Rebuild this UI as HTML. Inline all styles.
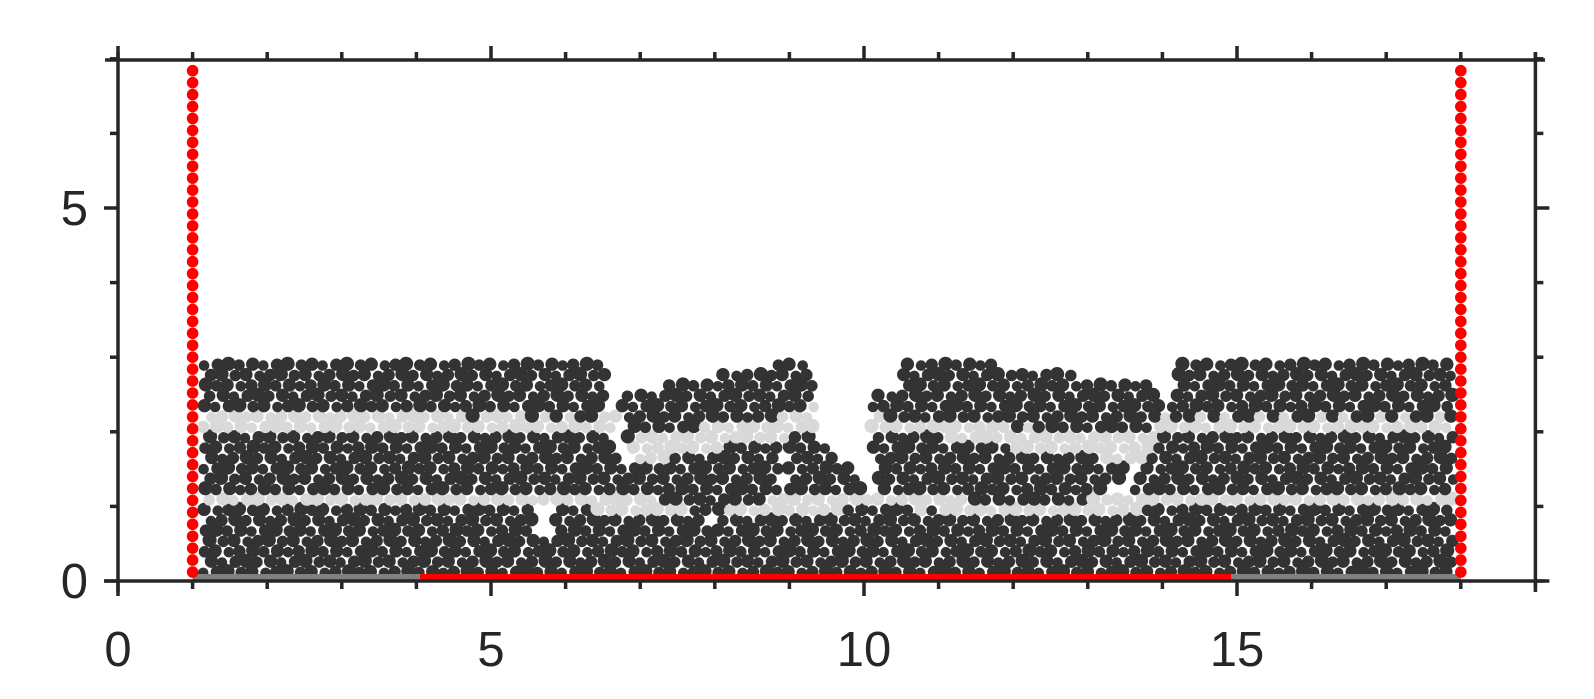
<!DOCTYPE html>
<html><head><meta charset="utf-8"><style>
html,body{margin:0;padding:0;background:#fff;}
svg{display:block;font-family:"Liberation Sans",sans-serif;}
</style></head><body>
<svg id="chart" width="1594" height="699" viewBox="0 0 1594 699" xmlns="http://www.w3.org/2000/svg">
<g id="particles"></g>
<g id="walls"></g>
<g id="axes"></g>
</svg>
<script>
// ---- data ----
const xTickMajor = [0, 5, 10, 15];
const xTickLabels = ["0", "5", "10", "15"];
const xTickMinor = [1,2,3,4,6,7,8,9,11,12,13,14,16,17,18,19];
const yTickMajor = [0, 5];
const yTickLabels = ["0", "5"];
const yTickMinor = [1,2,3,4,6,7];
const wallXs = [1, 18];
const wallTop = 7;
const floorRed = [4.05, 14.92];
const floorGray = [[1, 4.05], [14.92, 18]];
// regions of material (data units): white holes, dark layers, light layers
const holeRegions = [
  [[5.58,0.6],[5.85,0.6],[5.85,1.05],[5.58,1.05]]
];
const darkRegions = [
  [[1.1,0.05],[17.9,0.05],[17.9,0.98],[14,0.98],[13.3,0.9],[12.5,0.82],[11,0.95],[10.1,0.98],[9.3,0.9],[8,0.82],[7.2,0.9],[6.5,0.95],[5.5,1.02],[1.1,1.0]],
  [[1.1,2.25],[1.1,3.0],[6.55,2.97],[6.55,2.2]],
  [[1.1,1.97],[6.6,1.97],[6.8,1.6],[7.1,1.4],[7.1,1.2],[1.1,1.18]],
  [[6.76,2.49],[9.18,3.0],[9.32,2.95],[9.32,2.29],[6.76,1.89]],
  [[7.0,1.58],[8.83,1.93],[8.92,1.13],[7.8,0.86],[7.0,1.22]],
  [[8.95,1.9],[9.3,2.0],[9.6,1.7],[9.95,1.4],[9.95,1.15],[8.95,1.1]],
  [[10.08,2.22],[10.08,2.5],[10.45,2.5],[10.48,3.05],[14.0,2.62],[13.93,1.93]],
  [[10.1,2.06],[13.52,1.58],[13.6,1.4],[12.67,0.95],[10.17,1.22]],
  [[14.24,3.0],[17.9,3.0],[17.9,2.2],[14.1,2.2],[14.1,2.4]],
  [[14.0,2.0],[17.9,2.0],[17.9,1.18],[13.5,1.18],[13.6,1.35]]
];
const lightRegions = [
  [[1.1,2.28],[6.7,2.28],[6.7,1.93],[1.1,1.93]],
  [[1.1,1.22],[17.9,1.22],[17.9,0.85],[1.1,0.85]],
  [[6.8,1.95],[9.35,2.35],[9.35,1.95],[7.0,1.5]],
  [[10.1,2.3],[13.95,1.95],[13.95,1.5],[10.1,2.0]],
  [[14.0,2.28],[17.9,2.28],[17.9,1.93],[13.9,1.93]]
];

// ---- scales ----
const X = v => 118 + v * 74.6;
const Y = v => 581 - v * 74.6;
const NS = "http://www.w3.org/2000/svg";
function mk(tag, attrs, parent){ const e=document.createElementNS(NS,tag); for(const k in attrs) e.setAttribute(k,attrs[k]); parent.appendChild(e); return e; }
function inPoly(x,y,p){ let c=false; for(let i=0,j=p.length-1;i<p.length;j=i++){ const xi=p[i][0],yi=p[i][1],xj=p[j][0],yj=p[j][1]; if(((yi>y)!==(yj>y)) && (x < (xj-xi)*(y-yi)/(yj-yi)+xi)) c=!c; } return c; }

// particles
const pg = document.getElementById('particles');
const d = 0.16, dy = 0.139;
for(let j=0; 0.12 + j*dy <= 3.1; j++){
  for(let i=0; 1.16 + i*d + (j%2)*0.08 <= 17.9; i++){
    const h = (i*7 + j*13) % 5, h2 = (i*11 + j*5) % 7;
    const x = 1.16 + i*d + (j%2)*0.08 + (h2-3)*0.006;
    const y = 0.12 + j*dy + (h-2)*0.006;
    if(holeRegions.some(p=>inPoly(x,y,p))) continue;
    let col = null;
    if(darkRegions.some(p=>inPoly(x,y,p))) col = '#333333';
    else if(lightRegions.some(p=>inPoly(x,y,p))) col = '#d9d9d9';
    if(!col) continue;
    const c = mk('circle',{cx:X(x).toFixed(1),cy:Y(y).toFixed(1),r:(5.3+h*0.45).toFixed(2),fill:col},pg);
    
    
  }
}

// walls and floor
const wg = document.getElementById('walls');
floorGray.forEach(s=>{
  const l = mk('line',{x1:X(s[0]),x2:X(s[1]),y1:577,y2:577,stroke:'#808080','stroke-width':6},wg);
  
  
});
{
  const l = mk('line',{x1:X(floorRed[0]),x2:X(floorRed[1]),y1:577,y2:577,stroke:'#ff0000','stroke-width':6},wg);
  
  
}
wallXs.forEach(wx=>{
  for(let v=0.12; v<=wallTop-0.05; v+=0.16){
    const c = mk('circle',{cx:X(wx),cy:Y(v),r:5.8,fill:'#ff0000'},wg);
    
    
  }
});

// axes
const ag = document.getElementById('axes');
const ax = '#262626';
function ln(x1,y1,x2,y2,name){ const l=mk('line',{x1,y1,x2,y2,stroke:ax,'stroke-width':3.5},ag);   }
ln(105,581,1545,581,'x-axis-bottom');
ln(105,60,1545,60,'x-axis-top');
ln(X(0),52,X(0),592,'y-axis-left');
ln(X(19),52,X(19),592,'y-axis-right');
xTickMajor.forEach((v,k)=>{
  ln(X(v),581,X(v),596,'x-tick-major');
  ln(X(v),60,X(v),46,'x-tick-top-major');
  const t = mk('text',{x:X(v),y:666,'text-anchor':'middle','font-size':49,fill:'#262626'},ag);
  t.textContent = xTickLabels[k];
  
  
});
xTickMinor.forEach(v=>{
  ln(X(v),581,X(v),589,'x-tick-minor');
  ln(X(v),60,X(v),52,'x-tick-top-minor');
});
yTickMajor.forEach((v,k)=>{
  ln(X(0),Y(v),X(0)-14,Y(v),'y-tick-major');
  ln(X(19),Y(v),X(19)+14,Y(v),'y-tick-right-major');
  const t = mk('text',{x:88,y:Y(v)+17,'text-anchor':'end','font-size':49,fill:'#262626'},ag);
  t.textContent = yTickLabels[k];
  
  
});
yTickMinor.forEach(v=>{
  ln(X(0),Y(v),X(0)-8,Y(v),'y-tick-minor');
  ln(X(19),Y(v),X(19)+8,Y(v),'y-tick-right-minor');
});
</script>
</body></html>
